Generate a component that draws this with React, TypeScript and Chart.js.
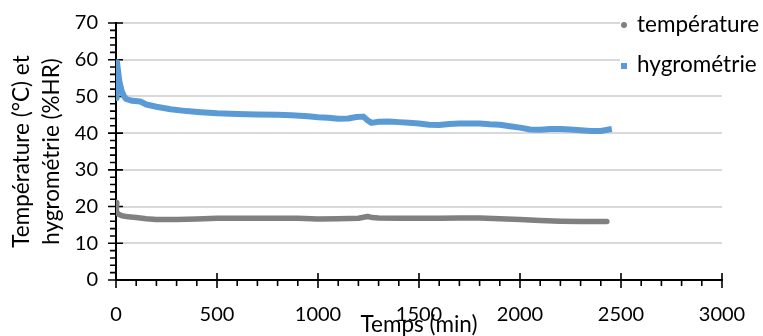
import React, { useEffect, useRef } from 'react';
import { Chart, registerables } from 'chart.js';

Chart.register(...registerables);

// ---- data ----
const seriesNames = ['température', 'hygrométrie'];
const timeTemp = [0, 2, 10, 30, 60, 100, 150, 200, 300, 400, 500, 600, 700, 800, 900, 1000, 1100, 1200, 1245, 1270, 1300, 1400, 1500, 1600, 1700, 1800, 1900, 2000, 2100, 2200, 2300, 2400, 2430];
const temp = [21, 18.6, 18.0, 17.5, 17.2, 17.0, 16.7, 16.5, 16.5, 16.6, 16.8, 16.8, 16.8, 16.8, 16.8, 16.6, 16.7, 16.8, 17.3, 17.0, 16.9, 16.8, 16.8, 16.8, 16.9, 16.9, 16.7, 16.5, 16.2, 16.0, 15.9, 15.9, 15.9];
const timeHygro = [0, 3, 5, 10, 17, 28, 38, 50, 80, 120, 150, 200, 270, 350, 420, 500, 600, 700, 800, 870, 950, 1000, 1050, 1100, 1150, 1190, 1225, 1245, 1265, 1300, 1350, 1400, 1450, 1500, 1550, 1600, 1650, 1700, 1800, 1850, 1900, 1950, 2000, 2050, 2100, 2150, 2200, 2250, 2300, 2350, 2400, 2440];
const hygro = [50, 49.6, 59.3, 57, 54, 51.5, 50.2, 49.3, 48.8, 48.6, 47.8, 47.2, 46.5, 46.0, 45.7, 45.4, 45.2, 45.1, 45.0, 44.9, 44.6, 44.3, 44.2, 43.9, 44.0, 44.4, 44.5, 43.5, 42.8, 43.1, 43.2, 43.0, 42.8, 42.6, 42.3, 42.2, 42.5, 42.6, 42.6, 42.4, 42.3, 41.9, 41.5, 41.0, 40.9, 41.1, 41.1, 41.0, 40.8, 40.6, 40.6, 41.0];
const xTickValues = [0, 500, 1000, 1500, 2000, 2500, 3000];
const yTickValues = [0, 10, 20, 30, 40, 50, 60, 70];
const xTitle = 'Temps (min)';
const yTitle = ['Température (°C) et', 'hygrométrie (%HR)'];

const GRAY = '#808080';
const BLUE = '#5B9BD5';
const FONT = 'Lato, "Open Sans", sans-serif';

const axisTicksPlugin = {
  id: 'axisTicks',
  beforeDatasetsDraw(chart: any) {
    const { ctx, chartArea, scales } = chart;
    const xs = scales.x;
    const ys = scales.y;
    ctx.save();
    ctx.strokeStyle = '#000';
    ctx.lineWidth = 1.6;
    ctx.beginPath();
    const yMax = yTickValues[yTickValues.length - 1];
    for (let v = 0; v <= yMax; v += 2) {
      const py = ys.getPixelForValue(v);
      const major = v % 10 === 0;
      ctx.moveTo(chartArea.left - (major ? 8 : 6), py);
      ctx.lineTo(chartArea.left + (major ? 7 : 0), py);
    }
    const xMax = xTickValues[xTickValues.length - 1];
    for (let v = 0; v <= xMax; v += 100) {
      const px = xs.getPixelForValue(v);
      const major = v % 500 === 0;
      ctx.moveTo(px, chartArea.bottom - (major ? 7 : 0));
      ctx.lineTo(px, chartArea.bottom + (major ? 8 : 6));
    }
    ctx.stroke();
    ctx.restore();
  },
};

const legendPlugin = {
  id: 'customLegend',
  afterDraw(chart: any) {
    const { ctx } = chart;
    ctx.save();
    ctx.fillStyle = '#fff';
    ctx.fillRect(620, 6, 143, 76);
    ctx.fillStyle = GRAY;
    ctx.beginPath();
    ctx.arc(624, 25, 3, 0, Math.PI * 2);
    ctx.fill();
    ctx.fillStyle = BLUE;
    ctx.fillRect(621, 63, 6, 6);
    ctx.fillStyle = '#000';
    ctx.font = `22.5px ${FONT}`;
    ctx.textBaseline = 'middle';
    ctx.textAlign = 'left';
    ctx.fillText(seriesNames[0], 637, 25);
    ctx.fillText(seriesNames[1], 637, 65);
    ctx.restore();
  },
};

export default function App() {
  const ref = useRef<HTMLCanvasElement | null>(null);
  useEffect(() => {
    if (!ref.current) return;
    Chart.defaults.font.family = FONT;
    const chart = new Chart(ref.current, {
      type: 'line',
      data: {
        datasets: [
          {
            label: seriesNames[0],
            data: timeTemp.map((t, i) => ({ x: t, y: temp[i] })),
            borderColor: GRAY,
            backgroundColor: GRAY,
            borderWidth: 5.5,
            borderCapStyle: 'round',
            borderJoinStyle: 'round',
            pointRadius: (c: any) => (c.dataIndex === 0 ? 3.5 : 0),
            pointBorderWidth: 0,
            tension: 0,
          },
          {
            label: seriesNames[1],
            data: timeHygro.map((t, i) => ({ x: t, y: hygro[i] })),
            borderColor: BLUE,
            backgroundColor: BLUE,
            borderWidth: 6,
            borderCapStyle: 'square',
            borderJoinStyle: 'round',
            pointRadius: 0,
            tension: 0,
          },
        ],
      },
      options: {
        responsive: false,
        animation: false,
        devicePixelRatio: 1,
        layout: { padding: { left: 0, top: 23, right: 41, bottom: 0 } },
        plugins: { legend: { display: false }, tooltip: { enabled: false } },
        scales: {
          x: {
            type: 'linear',
            min: xTickValues[0],
            max: xTickValues[xTickValues.length - 1],
            afterBuildTicks: (s: any) => {
              s.ticks = xTickValues.map((v) => ({ value: v }));
            },
            afterFit: (s: any) => {
              s.height = 56;
              s.paddingLeft = 0;
              s.paddingRight = 0;
            },
            grid: { display: false, drawTicks: false },
            border: { display: true, color: '#000', width: 2 },
            ticks: {
              padding: 23,
              color: '#000',
              font: { size: 20 },
              maxRotation: 0,
              autoSkip: false,
              callback: (v: any) => String(v),
            },
            title: {
              display: true,
              text: xTitle,
              color: '#000',
              font: { size: 22.5, lineHeight: 1 },
              padding: { top: 0, bottom: 0 },
            },
          },
          y: {
            type: 'linear',
            min: yTickValues[0],
            max: yTickValues[yTickValues.length - 1],
            afterBuildTicks: (s: any) => {
              s.ticks = yTickValues.map((v) => ({ value: v }));
            },
            afterFit: (s: any) => {
              s.width = 116;
              s.paddingTop = 0;
              s.paddingBottom = 0;
            },
            grid: { color: '#d9d9d9', lineWidth: 2, drawTicks: false },
            border: { display: true, color: '#000', width: 2 },
            ticks: { padding: 18, color: '#000', font: { size: 20 }, callback: (v: any) => String(v) },
            title: {
              display: true,
              text: yTitle,
              color: '#000',
              font: { size: 22.5, lineHeight: '30px' },
              padding: { top: 7, bottom: 0 },
            },
          },
        },
      } as any,
      plugins: [axisTicksPlugin, legendPlugin],
    });
    return () => chart.destroy();
  }, []);
  return (
    <div style={{ position: 'absolute', left: 0, top: 0, width: 763, height: 336, background: '#fff' }}>
      <canvas ref={ref} width={763} height={336} />
    </div>
  );
}
